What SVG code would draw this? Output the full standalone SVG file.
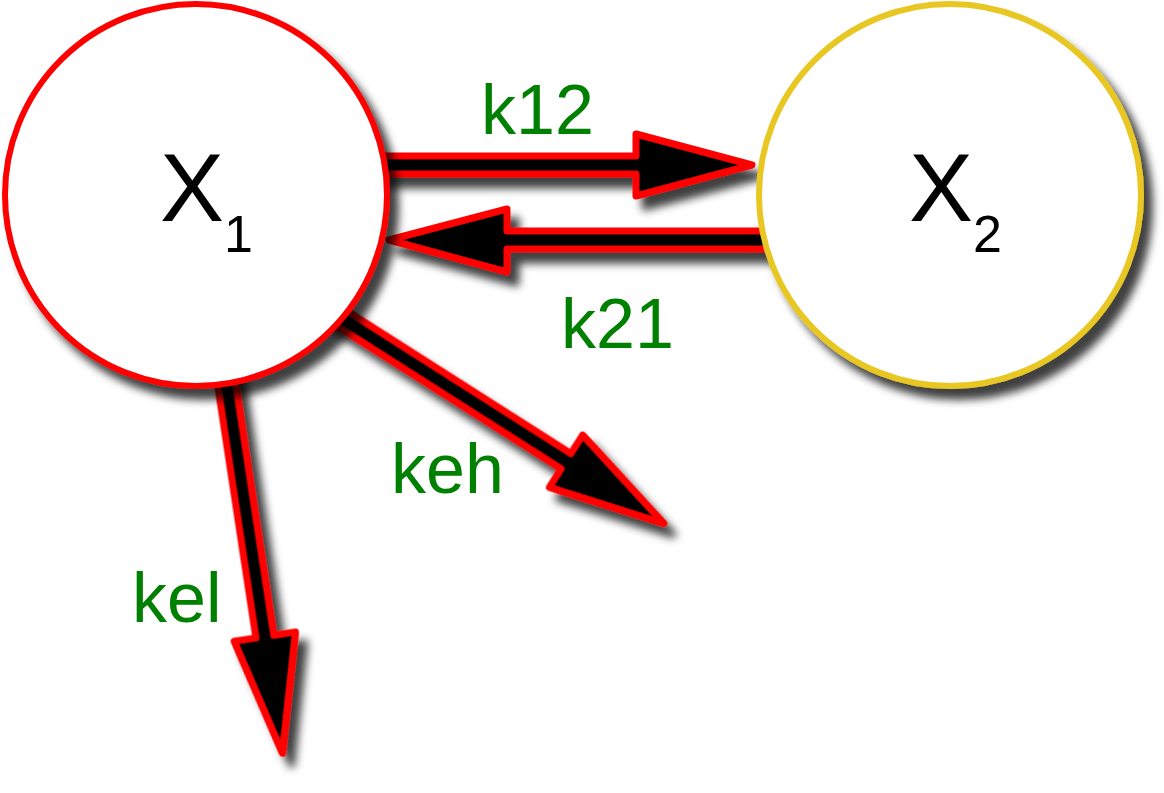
<svg xmlns="http://www.w3.org/2000/svg" width="1164" height="793" viewBox="0 0 1164 793">
  <defs>
    <filter id="shadow" x="-20%" y="-20%" width="150%" height="150%">
      <feDropShadow dx="9" dy="11" stdDeviation="4" flood-color="#000" flood-opacity="0.75"/>
    </filter>
    <style>
      .arrow { fill: #000; stroke: #ff0000; stroke-width: 7; stroke-linejoin: round; }
      .node { fill: #ffffff; stroke-width: 6; }
      .lbl { font-family: "Liberation Sans", Arial, Helvetica, sans-serif; font-size: 70px; fill: #008000; }
      .name { font-family: "Liberation Sans", Arial, Helvetica, sans-serif; font-size: 96px; fill: #000; }
      .sub { font-size: 52px; }
    </style>
  </defs>
  <rect width="1164" height="793" fill="#ffffff"/>
  <g id="connectors" filter="url(#shadow)">
    <polygon id="k12" class="arrow" points="380,156 636,156 636,134 752,165 636,196 636,174 380,174"/>
    <polygon id="k21" class="arrow" points="770,231 507,231 507,209 389,240 507,272 507,249 770,249"/>
    <polygon id="keh" class="arrow" transform="translate(313,300) rotate(32.5)" points="0,-9 300,-9 300,-31 416,0 300,31 300,9 0,9"/>
    <polygon id="kel" class="arrow" transform="translate(220,340) rotate(81.4)" points="0,-9 300,-9 300,-31 418,0 300,31 300,9 0,9"/>
  </g>
  <g id="labels">
    <text class="lbl" x="481" y="134">k12</text>
    <text class="lbl" x="561" y="348">k21</text>
    <text class="lbl" x="391" y="493">keh</text>
    <text class="lbl" x="132" y="622">kel</text>
  </g>
  <g id="X1">
    <circle class="node" cx="196" cy="195" r="191" stroke="#ff0000" filter="url(#shadow)"/>
    <text class="name" x="160" y="221">X<tspan class="sub" dy="31">1</tspan></text>
  </g>
  <g id="X2">
    <circle class="node" cx="950" cy="195" r="191" stroke="#e9c724" filter="url(#shadow)"/>
    <text class="name" x="909" y="221">X<tspan class="sub" dy="31">2</tspan></text>
  </g>
</svg>
